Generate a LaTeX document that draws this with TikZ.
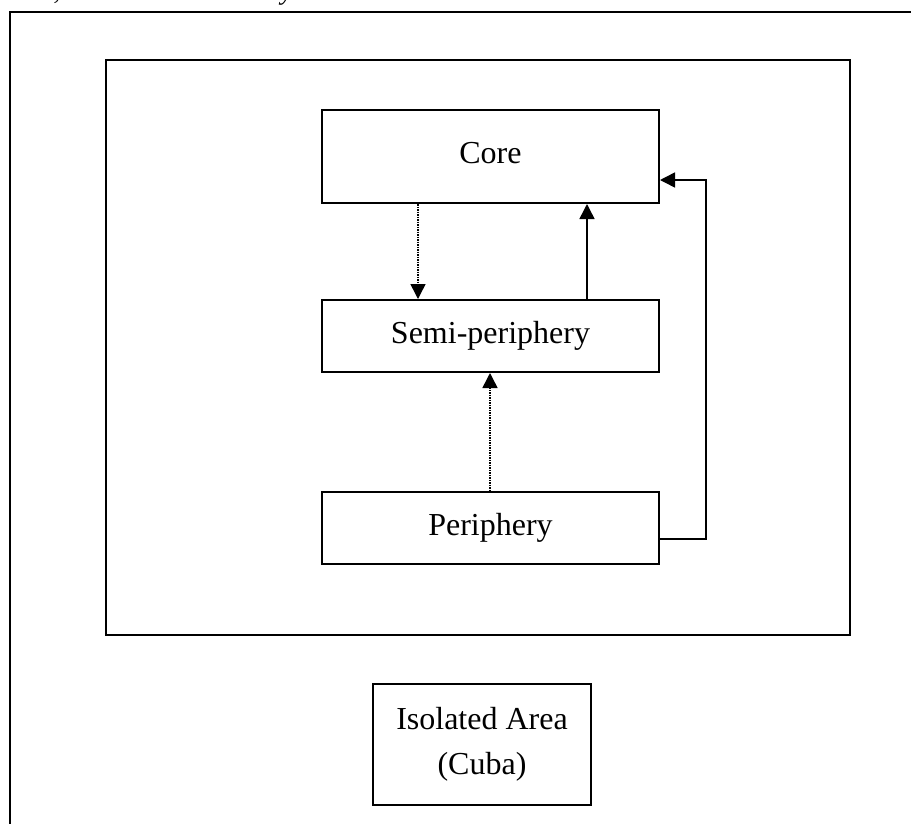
\documentclass[tikz,border=0pt]{standalone}
\usepackage{fontspec}
\setmainfont{Liberation Serif}
\usetikzlibrary{arrows.meta}
\begin{document}
\begin{tikzpicture}[x=1pt,y=-1pt,
  box/.style={draw,line width=2pt,rectangle,inner sep=0pt,font=\fontsize{32}{45}\selectfont,align=center},
  conn/.style={line width=1.5pt,-{Triangle[length=15pt,width=15pt]}},
  dconn/.style={conn,densely dotted}]
\useasboundingbox (0,0) rectangle (911,823);
\begin{scope}
\clip (0,0) rectangle (911,823);
\node[anchor=base west,inner sep=0pt,font=\fontsize{27}{30}\selectfont\itshape] (cap) at (40,-0.5) {1, Wallerstein World System};
\draw[line width=2pt] (10,900) -- (10,12) -- (930,12);
\end{scope}
\draw[line width=2pt] (106,60) rectangle (850,635);
\node[box,minimum width=337pt,minimum height=93pt] (core) at (490.5,156.5) {\raisebox{8pt}{Core}};
\node[box,minimum width=337pt,minimum height=72pt] (semi) at (490.5,336) {Semi-periphery};
\node[box,minimum width=337pt,minimum height=72pt] (peri) at (490.5,528) {Periphery};
\node[box,minimum width=218pt,minimum height=121pt] (iso) at (482,744.5) {Isolated Area\\(Cuba)};
\coordinate (d1) at (418,0);
\coordinate (d2) at (587,0);
\coordinate (d3) at (490,0);
\coordinate (rv) at (706,180);
\draw[dconn] (core.south -| d1) -- (semi.north -| d1);
\draw[conn] (semi.north -| d2) -- (core.south -| d2);
\draw[dconn] (peri.north -| d3) -- (semi.south -| d3);
\draw[conn] ([yshift=-11pt]peri.east) -| (rv) -- (rv -| core.east);
\end{tikzpicture}
\end{document}
